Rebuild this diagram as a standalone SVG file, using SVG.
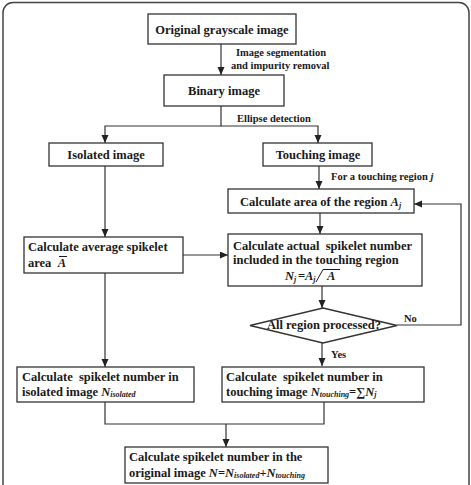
<svg xmlns="http://www.w3.org/2000/svg" width="471" height="485" viewBox="0 0 471 485">
<style>
.box{fill:#fff;stroke:#333;stroke-width:1.3}
.t{font-family:"Liberation Serif","Times New Roman",serif;font-weight:bold;font-size:12.5px;fill:#1a1a1a;white-space:pre}
.c{text-anchor:middle}
.lbl{font-family:"Liberation Serif","Times New Roman",serif;font-weight:bold;font-size:10.5px;fill:#1a1a1a}
.it{font-style:italic}
.sub{font-size:8px;font-style:italic}
.ln{fill:none;stroke:#333;stroke-width:1.2}
</style>
<defs>
<marker id="ah" markerUnits="userSpaceOnUse" markerWidth="9" markerHeight="8" refX="8" refY="3.5" orient="auto">
<path d="M0,0 L8,3.5 L0,7 z" fill="#222"/>
</marker>
</defs>
<rect x="3" y="2.5" width="466" height="492" rx="10" fill="#fff" stroke="#444" stroke-width="1.5"/>

<g id="connectors">
<path class="ln" d="M221,44 V75" marker-end="url(#ah)"/>
<path class="ln" d="M221,106 V126 H105 V143" marker-end="url(#ah)"/>
<path class="ln" d="M221,126 H318 V143" marker-end="url(#ah)"/>
<path class="ln" d="M319,166 V189" marker-end="url(#ah)"/>
<path class="ln" d="M320,213 V234" marker-end="url(#ah)"/>
<path class="ln" d="M105,166 V237" marker-end="url(#ah)"/>
<path class="ln" d="M183,255 H228" marker-end="url(#ah)"/>
<path class="ln" d="M105,273 V367" marker-end="url(#ah)"/>
<path class="ln" d="M322,286 V308" marker-end="url(#ah)"/>
<path class="ln" d="M322,343 V366" marker-end="url(#ah)"/>
<path class="ln" d="M397,325 H461 V204 H414" marker-end="url(#ah)"/>
<path class="ln" d="M105,402 V424 H324 V402"/>
<path class="ln" d="M226,424 V447" marker-end="url(#ah)"/>
<text class="lbl" x="236" y="56">Image segmentation</text>
<text class="lbl" x="231" y="69">and impurity removal</text>
<text class="lbl" x="237" y="122">Ellipse detection</text>
<text class="lbl" x="331" y="180">For a touching region <tspan class="it">j</tspan></text>
<text class="lbl" x="404" y="322">No</text>
<text class="lbl" x="331" y="358">Yes</text>
</g>

<g id="n1">
<rect class="box" x="148" y="14" width="148" height="30"/>
<text class="t c" x="222" y="34">Original grayscale image</text>
</g>
<g id="n2">
<rect class="box" x="164" y="75" width="120" height="31"/>
<text class="t c" x="224" y="95">Binary image</text>
</g>
<g id="n3">
<rect class="box" x="49" y="143" width="114" height="23"/>
<text class="t c" x="106" y="159">Isolated image</text>
</g>
<g id="n4">
<rect class="box" x="263" y="143" width="109" height="23"/>
<text class="t c" x="318" y="159">Touching image</text>
</g>
<g id="n5">
<rect class="box" x="228" y="189" width="186" height="24"/>
<text class="t" x="240" y="206">Calculate area of the region <tspan class="it">A</tspan><tspan class="sub" dy="2">j</tspan></text>
</g>
<g id="n6">
<rect class="box" x="24" y="237" width="159" height="36"/>
<text class="t" x="28" y="251">Calculate average spikelet</text>
<text class="t" x="28" y="267">area  <tspan class="it">A</tspan></text>
<line x1="59" y1="256.5" x2="67" y2="256.5" stroke="#1a1a1a" stroke-width="1"/>
</g>
<g id="n7">
<rect class="box" x="228" y="234" width="194" height="52"/>
<text class="t" x="233" y="250">Calculate actual  spikelet number</text>
<text class="t" x="233" y="264">included in the touching region</text>
<text class="t"><tspan class="it" x="285" y="280">N</tspan><tspan class="sub" dy="2">j</tspan><tspan x="298" y="280">=</tspan><tspan class="it" x="305" y="280">A</tspan><tspan class="sub" dy="2">j</tspan><tspan class="it" x="327" y="280">A</tspan></text>
<path d="M316,282 L323,269.5 H340" fill="none" stroke="#1a1a1a" stroke-width="1"/>
</g>
<g id="n8">
<polygon class="box" points="323,308 397,325.5 323,343 250,325.5"/>
<text class="t c" x="324" y="329">All region processed?</text>
</g>
<g id="n9">
<rect class="box" x="17" y="367" width="177" height="35"/>
<text class="t" x="22" y="381">Calculate  spikelet number in</text>
<text class="t" x="22" y="396">isolated image <tspan class="it">N</tspan><tspan class="sub" dy="1">isolated</tspan></text>
</g>
<g id="n10">
<rect class="box" x="222" y="367" width="202" height="35"/>
<text class="t" x="226" y="381">Calculate  spikelet number in</text>
<text class="t" x="226" y="396">touching image <tspan class="it">N</tspan><tspan class="sub" dy="1">touching</tspan><tspan dy="-1">=∑</tspan><tspan class="it">N</tspan><tspan class="sub" dy="1">j</tspan></text>
</g>
<g id="n11">
<rect class="box" x="125" y="447" width="203" height="36"/>
<text class="t" x="129" y="461">Calculate spikelet number in the</text>
<text class="t" x="129" y="477">original image <tspan class="it">N</tspan>=<tspan class="it">N</tspan><tspan class="sub" dy="1">isolated</tspan><tspan dy="-1">+</tspan><tspan class="it">N</tspan><tspan class="sub" dy="1">touching</tspan></text>
</g>
</svg>
